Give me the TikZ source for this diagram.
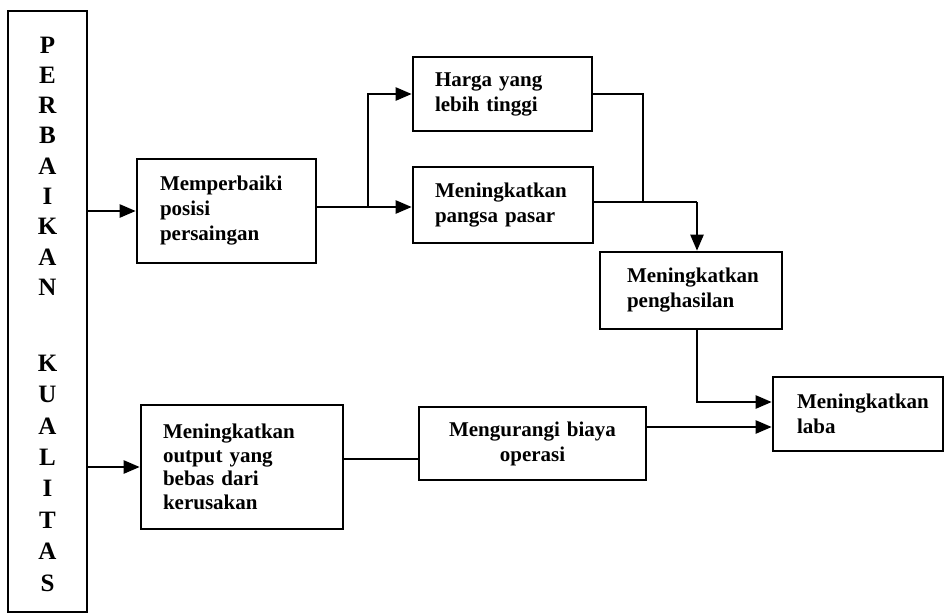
\documentclass[tikz,border=0pt]{standalone}
\usepackage{fontspec}
\setmainfont{Liberation Serif}
\usetikzlibrary{arrows.meta,calc}
\begin{document}
\begin{tikzpicture}[x=1pt,y=-1pt,
  box/.style={draw, line width=2.6pt, rectangle, inner ysep=0pt,
    font=\fontsize{21}{25}\selectfont\bfseries, align=left},
  letter/.style={font=\fontsize{25}{26}\selectfont\bfseries, inner sep=0pt},
  conn/.style={line width=2.4pt},
  arr/.style={conn, -{Triangle[length=16pt,width=13pt]}}
]
\useasboundingbox (0,0) rectangle (946,614);

% tall box
\node[draw, line width=2.6pt, minimum width=79pt, minimum height=601pt, inner sep=0pt] (tall) at (47.5,311.5) {};
\foreach \l [count=\i] in {P,E,R,B,A,I,K,A,N}
  \node[letter] (la\i) at (47.5,{45+(\i-1)*30.25}) {\l};
\foreach \l [count=\i] in {K,U,A,L,I,T,A,S}
  \node[letter] (lb\i) at (47.5,{363+(\i-1)*31.43}) {\l};

% boxes
\node[box, minimum width=179pt, minimum height=104pt, text width=133pt, inner xsep=23pt] (mem) at (226.5,211) {Memperbaiki\\posisi\\persaingan};
\node[box, minimum width=179pt, minimum height=74pt, text width=135pt, inner xsep=22pt] (harga) at (502.5,94) {Harga yang\\lebih tinggi};
\node[box, minimum width=180pt, minimum height=76pt, text width=136pt, inner xsep=22pt] (pangsa) at (503,205) {Meningkatkan\\pangsa pasar};
\node[box, minimum width=182pt, minimum height=77pt, text width=128pt, inner xsep=27pt] (hasil) at (691,290.5) {Meningkatkan\\penghasilan};
\node[box, minimum width=170pt, minimum height=74pt, text width=122pt, inner xsep=24pt] (laba) at (858,414) {Meningkatkan\\laba};
\node[box, font=\fontsize{21}{23.5}\selectfont\bfseries, minimum width=202pt, minimum height=124pt, text width=158pt, inner xsep=22pt] (out) at (242,467) {Meningkatkan\\output yang\\bebas dari\\kerusakan};
\node[box, align=center, minimum width=227pt, minimum height=73pt, text width=200pt, inner xsep=13.5pt] (kurang) at (532.5,443.5) {Mengurangi biaya\\operasi};

% connectors
\draw[arr] (tall.east |- mem.west) -- (mem.west);
\draw[arr] (tall.east |- out.west) -- (out.west);

\coordinate (j1) at (368,207);
\draw[arr] (j1 -| mem.east) -- (j1) |- (harga.west);
\draw[arr] (j1) -- (j1 -| pangsa.west);

\coordinate (j2) at (643,202);
\coordinate (j3) at (697,202);
\draw[conn] (harga.east) -| (j2);
\draw[conn] (j2 -| pangsa.east) -- (j3);
\draw[arr] (j3) -- (j3 |- hasil.north);

\coordinate (j4) at (697,402);
\draw[arr] (j4 |- hasil.south) -- (j4) -- (j4 -| laba.west);

\coordinate (j5) at (380,459);
\draw[conn] (j5 -| out.east) -- (j5 -| kurang.west);

\coordinate (j6) at (710,427);
\draw[arr] (j6 -| kurang.east) -- (j6 -| laba.west);
\end{tikzpicture}
\end{document}
